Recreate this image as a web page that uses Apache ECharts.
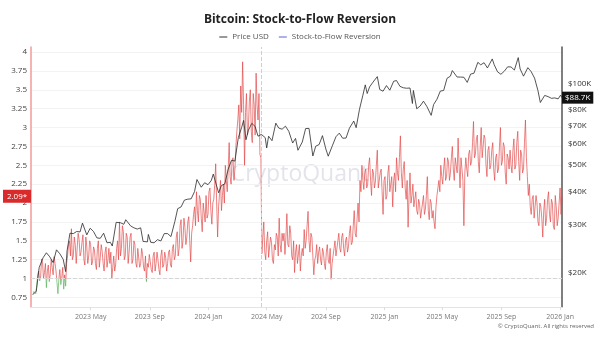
<!DOCTYPE html>
<html><head><meta charset="utf-8">
<script src="https://cdn.jsdelivr.net/npm/echarts@6/dist/echarts.min.js"></script>
<style>html,body{margin:0;padding:0;background:#fff}#c{width:600px;height:337px}</style>
</head><body><div id="c"></div>
<script>
// ---- data ----
const priceDates = ['2023-01-01','2023-01-08','2023-01-14','2023-01-22','2023-01-29','2023-02-05','2023-02-12','2023-02-19','2023-02-26','2023-03-05','2023-03-10','2023-03-13','2023-03-19','2023-03-26','2023-04-02','2023-04-09','2023-04-14','2023-04-23','2023-04-30','2023-05-07','2023-05-14','2023-05-21','2023-05-28','2023-06-04','2023-06-11','2023-06-15','2023-06-23','2023-07-02','2023-07-09','2023-07-13','2023-07-23','2023-07-30','2023-08-06','2023-08-13','2023-08-18','2023-08-27','2023-08-29','2023-09-03','2023-09-10','2023-09-17','2023-09-24','2023-10-01','2023-10-08','2023-10-15','2023-10-23','2023-10-29','2023-11-05','2023-11-12','2023-11-19','2023-11-26','2023-12-03','2023-12-08','2023-12-17','2023-12-24','2023-12-31','2024-01-07','2024-01-11','2024-01-22','2024-01-28','2024-02-04','2024-02-11','2024-02-18','2024-02-25','2024-03-03','2024-03-10','2024-03-14','2024-03-19','2024-03-24','2024-03-31','2024-04-07','2024-04-13','2024-04-20','2024-04-28','2024-05-01','2024-05-05','2024-05-12','2024-05-20','2024-05-26','2024-06-02','2024-06-09','2024-06-16','2024-06-24','2024-06-30','2024-07-05','2024-07-14','2024-07-21','2024-07-28','2024-08-05','2024-08-11','2024-08-18','2024-08-25','2024-09-01','2024-09-06','2024-09-15','2024-09-22','2024-09-29','2024-10-06','2024-10-13','2024-10-20','2024-10-29','2024-11-03','2024-11-10','2024-11-17','2024-11-22','2024-11-26','2024-12-01','2024-12-08','2024-12-17','2024-12-22','2024-12-29','2025-01-05','2025-01-12','2025-01-20','2025-01-26','2025-02-02','2025-02-09','2025-02-16','2025-02-23','2025-02-28','2025-03-02','2025-03-09','2025-03-16','2025-03-23','2025-03-30','2025-04-08','2025-04-13','2025-04-20','2025-04-27','2025-05-04','2025-05-11','2025-05-18','2025-05-22','2025-06-01','2025-06-08','2025-06-15','2025-06-22','2025-06-29','2025-07-06','2025-07-14','2025-07-20','2025-07-27','2025-08-03','2025-08-13','2025-08-17','2025-08-24','2025-08-31','2025-09-07','2025-09-14','2025-09-21','2025-09-28','2025-10-06','2025-10-10','2025-10-17','2025-10-26','2025-11-02','2025-11-09','2025-11-16','2025-11-21','2025-11-30','2025-12-07','2025-12-14','2025-12-21','2025-12-28','2026-01-02','2026-01-05'];
const priceK = [16.6,17.1,20.9,22.7,23.7,22.9,21.8,24.3,23.5,22.4,20.2,24.1,28.0,27.9,28.4,28.3,30.5,27.6,29.2,28.4,26.9,26.8,28.0,25.8,25.9,25.1,30.7,30.6,30.2,31.4,29.8,29.3,29.0,29.3,26.1,26.0,27.7,25.9,25.8,26.5,26.2,27.9,27.9,27.2,30.9,34.5,35.0,37.1,37.4,37.5,39.9,44.2,41.4,43.0,42.3,43.9,46.3,39.5,42.0,42.6,48.3,52.1,51.7,63.1,68.9,73.1,62.0,67.2,71.3,69.4,63.9,64.9,63.1,57.8,63.9,61.5,71.4,68.5,67.8,69.6,66.6,60.3,62.7,56.7,60.8,68.2,68.3,54.0,58.7,59.5,64.2,57.3,53.9,59.2,63.6,65.6,62.8,62.9,68.4,72.7,68.7,80.4,90.6,98.9,91.9,97.2,101.2,106.1,95.1,93.7,98.3,94.5,102.0,102.6,97.7,96.5,96.1,96.3,84.4,94.3,80.7,82.6,86.1,82.3,76.3,83.6,87.5,93.8,94.3,104.6,106.5,111.7,105.7,105.7,105.5,101.0,108.4,109.2,119.8,117.3,119.4,114.2,123.3,117.4,110.5,108.2,111.1,115.3,115.2,112.2,124.7,113.2,106.5,114.5,110.6,104.7,94.2,85.1,90.4,89.5,88.2,88.5,87.8,90.6,88.7];

const s2fStart = [2023, 0, 1];   // first sample date
const s2fStepDays = 2;            // sample spacing
const s2fValues = [
0.79,0.83,0.85,0.8,0.92,1.05,1.1,0.97,1.02,1.26,1.22,1.0,1.08,1.2,0.88,1.1,1.18,0.96,1.06,1.25,
1.15,1.05,1.29,1.2,1.1,0.95,0.8,1.0,1.12,0.92,1.02,1.15,0.86,1.05,0.9,1.2,1.3,1.45,1.5,1.3,
1.66,1.25,1.3,1.55,1.45,1.2,1.22,1.6,1.52,1.3,1.35,1.48,1.58,1.25,1.18,1.55,1.42,1.2,1.3,1.5,
1.45,1.18,1.22,1.42,1.38,1.2,1.12,1.4,1.5,1.15,1.28,1.45,1.36,1.2,1.1,1.35,1.42,1.15,1.25,1.4,
1.2,1.35,1.0,1.15,1.3,1.1,1.18,1.4,1.5,1.25,1.75,1.3,1.4,1.7,1.62,1.25,1.3,1.6,1.55,1.2,
1.35,1.55,1.6,1.2,1.25,1.5,1.45,1.2,1.15,1.4,1.38,1.15,1.2,1.4,1.32,1.15,1.1,1.3,0.96,1.2,
1.15,1.32,1.3,1.12,1.08,1.3,1.35,1.1,1.2,1.35,1.25,1.12,1.05,1.3,1.38,1.15,1.18,1.35,1.28,1.1,
1.2,1.35,1.38,1.18,1.15,1.4,1.45,1.25,1.3,1.55,1.62,1.3,1.4,1.7,1.78,1.4,1.5,1.8,1.68,1.45,
1.55,1.75,1.82,1.5,1.22,1.6,1.7,1.85,1.95,1.7,2.15,1.9,1.75,2.1,2.05,1.8,1.62,2.0,1.98,1.75,
2.1,1.8,1.85,2.15,2.2,1.9,1.72,2.0,2.05,2.25,2.52,2.0,1.55,1.95,2.12,2.3,1.9,2.1,2.25,2.0,
2.5,2.3,2.15,2.45,2.8,2.35,2.25,2.55,2.6,2.3,2.45,2.75,2.95,3.1,3.3,2.85,3.55,3.2,3.87,3.3,
2.5,3.2,3.45,2.9,3.0,3.35,3.5,2.95,2.8,3.45,3.3,2.9,3.72,3.3,3.1,3.45,2.64,2.6,1.33,1.55,
1.75,1.35,1.25,1.5,1.62,1.28,1.3,1.55,1.48,1.25,1.2,1.45,1.38,1.6,1.55,1.3,1.8,1.45,1.35,1.6,
1.5,1.6,1.32,1.55,1.86,1.45,1.42,1.7,1.6,1.3,1.25,1.5,1.08,1.35,1.45,1.2,1.2,1.45,1.1,1.3,
1.4,1.3,1.65,1.4,1.5,1.7,1.89,1.5,1.35,1.6,1.55,1.3,1.05,1.25,1.3,1.45,1.2,1.35,1.42,1.25,
1.18,1.4,1.35,1.2,1.12,1.35,1.45,1.25,1.2,1.4,0.99,1.2,1.3,1.4,1.5,1.3,1.28,1.5,1.6,1.4,
1.35,1.55,1.6,1.4,1.3,1.5,1.55,1.35,1.42,1.6,1.7,1.45,1.48,1.7,1.9,1.6,1.55,1.8,2.0,1.75,
2.3,2.15,2.5,2.3,2.18,2.4,2.45,2.2,2.25,2.5,2.6,2.3,2.1,2.45,2.4,2.2,2.28,2.5,2.7,2.2,
2.2,2.4,2.45,2.15,1.85,2.3,2.35,2.05,2.1,2.4,2.5,2.15,2.25,2.35,1.95,2.3,2.4,2.15,2.6,2.4,
2.3,2.6,2.89,2.4,2.2,2.45,2.55,2.2,2.05,2.3,1.68,2.1,2.4,2.0,2.1,2.25,1.95,2.05,2.15,1.9,
1.85,2.05,1.98,1.8,1.8,2.0,2.1,1.85,1.92,2.1,2.35,1.9,1.78,2.05,2.0,1.8,
1.9,1.75,1.66,1.95,2.1,2.2,2.3,2.15,2.5,2.35,2.25,2.45,2.6,2.3,2.35,2.6,2.55,2.3,2.4,2.6,
2.75,2.45,2.3,2.6,2.5,2.4,2.86,2.5,2.2,2.6,2.45,2.3,1.7,2.4,2.6,2.45,2.35,2.65,2.7,2.5,
2.55,2.8,3.08,2.6,2.65,2.85,2.9,2.55,2.4,2.75,3.0,2.6,2.6,2.9,2.85,2.5,2.35,2.7,2.75,2.45,
2.5,2.7,2.8,2.45,2.3,2.6,2.65,2.4,2.45,2.75,3.0,2.5,2.55,2.8,2.75,2.4,2.25,2.65,2.6,2.45,
2.7,2.5,2.4,2.7,2.85,2.45,2.5,2.8,2.95,2.55,2.3,2.7,2.65,2.4,2.45,2.8,3.1,2.6,2.35,2.1,
2.25,1.95,1.85,2.05,2.1,1.8,1.78,2.1,2.0,1.75,1.7,2.0,1.95,1.8,1.55,1.9,2.05,1.7,1.8,2.05,
2.15,1.85,1.75,2.05,2.0,1.7,1.65,2.1,1.95,1.7,1.8,2.0,2.2,1.85,2.09];

const leftTicks = [0.75,1,1.25,1.5,1.75,2,2.25,2.5,2.75,3,3.25,3.5,3.75,4];
const rightTicksUSD = [20000,30000,40000,50000,60000,70000,80000,90000,100000];
const xTickDates = ['2023-05-01','2023-09-01','2024-01-01','2024-05-01','2024-09-01','2025-01-01','2025-05-01','2025-09-01','2026-01-01'];
const halvingDate = '2024-04-20';
const xRange = ['2022-12-28', '2026-01-05'];
const leftRange = [0.624, 4.066];
const rightRangeUSD = [14940, 136500];
const reversionThreshold = 1;
const monthNames = ['Jan','Feb','Mar','Apr','May','Jun','Jul','Aug','Sep','Oct','Nov','Dec'];

// ---- build ----
const toTs = s => { const p = s.split('-').map(Number); return new Date(p[0], p[1]-1, p[2]).getTime(); };
const priceData = priceDates.map((d, i) => [toTs(d), Math.log10(priceK[i] * 1000)]);
const s2fData = s2fValues.map((v, i) => [new Date(s2fStart[0], s2fStart[1], s2fStart[2] + i * s2fStepDays).getTime(), v]);
const lastPrice = priceK[priceK.length - 1];
const lastS2F = s2fValues[s2fValues.length - 1];
const FONT = '"Open Sans", "Noto Sans", sans-serif';

const chart = echarts.init(document.getElementById('c'), null, {renderer: 'canvas'});
chart.setOption({
  animation: false,
  backgroundColor: '#fff',
  textStyle: {fontFamily: FONT},
  title: {text: 'Bitcoin: Stock-to-Flow Reversion', left: 'center', top: 9,
    textStyle: {fontSize: 12, fontWeight: 'bold', color: '#222', fontFamily: FONT}},
  legend: {top: 28, left: 'center', icon: 'rect', itemWidth: 8, itemHeight: 1, itemGap: 10,
    textStyle: {fontSize: 8, color: '#555', fontFamily: FONT},
    data: [{name: 'Price USD', itemStyle: {color: '#333'}},
           {name: 'Stock-to-Flow Reversion', itemStyle: {color: '#5f5fe0'}}]},
  grid: {left: 31, right: 38, top: 47, bottom: 30},
  graphic: [
    {type: 'text', left: 'center', top: 163, z: 0, silent: true,
      style: {text: 'CryptoQuant', fontSize: 23, fontFamily: FONT, fill: 'rgba(185,185,205,0.4)'}},
    {type: 'text', right: 6, top: 323, silent: true,
      style: {text: '\u00A9 CryptoQuant. All rights reserved', fontSize: 6, fontFamily: FONT, fill: '#666'}}
  ],
  xAxis: {type: 'value', min: toTs(xRange[0]), max: toTs(xRange[1]),
    axisLine: {lineStyle: {color: '#e4e4e4'}},
    axisTick: {show: true, length: 3, lineStyle: {color: '#ddd'}, customValues: xTickDates.map(toTs)},
    axisLabel: {fontSize: 7, color: '#777', margin: 6, customValues: xTickDates.map(toTs),
      formatter: v => { const d = new Date(v); return d.getFullYear() + ' ' + monthNames[d.getMonth()]; }},
    splitLine: {show: false}},
  yAxis: [
    {type: 'value', position: 'left', min: leftRange[0], max: leftRange[1],
      axisLine: {show: true, lineStyle: {color: '#f29a9a', width: 1.5}},
      axisTick: {show: false, customValues: leftTicks},
      axisLabel: {fontSize: 8, color: '#444', margin: 4, customValues: leftTicks},
      splitLine: {show: true, lineStyle: {color: '#f3f3f3'}}},
    {type: 'value', position: 'right', min: Math.log10(rightRangeUSD[0]), max: Math.log10(rightRangeUSD[1]),
      axisLine: {show: true, lineStyle: {color: '#555', width: 1.5}},
      axisTick: {show: false, customValues: rightTicksUSD.map(Math.log10)},
      axisLabel: {fontSize: 8, color: '#333', margin: 6, customValues: rightTicksUSD.map(Math.log10),
        formatter: v => '$' + Math.round(Math.pow(10, v) / 1000) + 'K'},
      splitLine: {show: false}}
  ],
  visualMap: {type: 'piecewise', show: false, seriesIndex: 1, dimension: 1,
    pieces: [{min: leftRange[0], max: reversionThreshold, color: '#58b158'},
             {gt: reversionThreshold, lte: leftRange[1], color: '#e24444'}]},
  series: [
    {name: 'Price USD', type: 'line', yAxisIndex: 1, data: priceData, showSymbol: false, z: 4,
      lineStyle: {color: '#2a2a2a', width: 0.8}, itemStyle: {color: '#2a2a2a'},
      endLabel: {show: true, distance: 0, formatter: () => '$' + lastPrice.toFixed(1) + 'K',
        backgroundColor: '#111', color: '#fff', fontSize: 8, padding: [2, 3], fontFamily: FONT},
      markLine: {silent: true, symbol: ['none', 'none'], label: {show: false},
        lineStyle: {color: '#cfcfcf', type: 'dashed', width: 1},
        data: [{xAxis: toTs(halvingDate)}]}},
    {name: 'Stock-to-Flow Reversion', type: 'line', yAxisIndex: 0, data: s2fData, showSymbol: false, z: 3,
      lineStyle: {width: 0.9, opacity: 0.75}, itemStyle: {color: '#5f5fe0'},
      markLine: {silent: true, symbol: ['none', 'none'], label: {show: false},
        lineStyle: {color: '#d6d6d6', type: 'dashed', width: 1},
        data: [{yAxis: reversionThreshold}]},
      markPoint: {silent: true, data: [{coord: [toTs(xRange[0]), lastS2F], symbol: 'rect', symbolSize: [28, 13],
        symbolOffset: [-14, 0], itemStyle: {color: '#d92b2b'},
        label: {show: true, position: 'inside', formatter: lastS2F.toFixed(2) + '*', color: '#fff', fontSize: 8, fontFamily: FONT}}]}}
  ]
});
</script></body></html>
